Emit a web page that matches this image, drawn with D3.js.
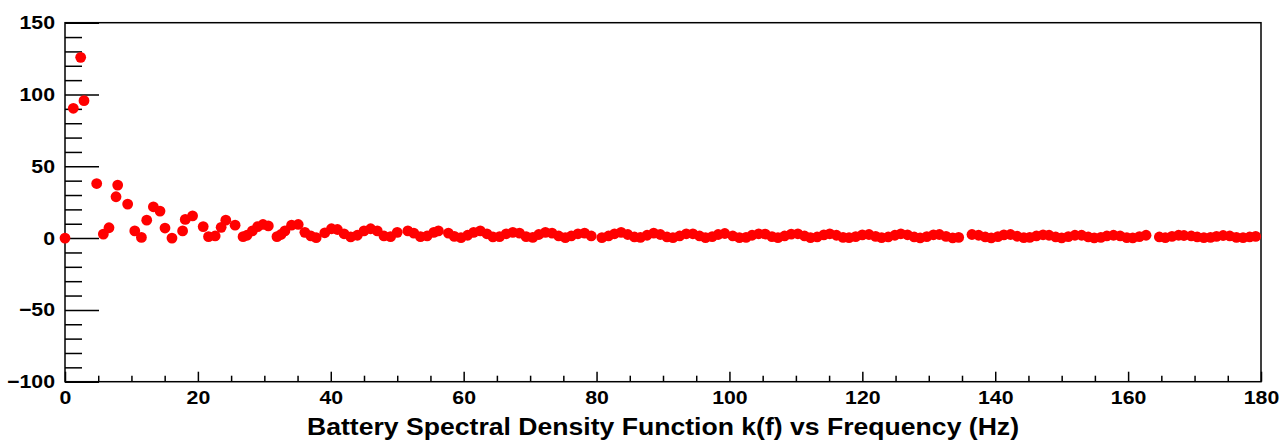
<!DOCTYPE html>
<html>
<meta charset="utf-8">
<head>
  <script src="https://d3js.org/d3.v7.min.js"></script>
  <style>
    body { margin: 0; background: #fff; }
    .tick text, .label { font-family: "Liberation Sans", Arial, sans-serif; font-weight: bold; fill: #000; }
    .frame { fill: none; stroke: #000; stroke-width: 1.5px; }
  </style>
</head>
<body>
<div id="chart"></div>
<script>
  "use strict"

  // frequency (Hz) and k(f)
  var freq = [0, 1.25, 2.36, 2.86, 4.77, 5.77, 6.62, 7.68, 7.93, 9.43, 10.5, 11.5, 12.3, 13.3, 14.3, 15.05, 16.1,
    17.7, 18.1, 19.2, 20.8, 21.6, 22.6, 23.5, 24.2, 25.6, 26.8, 27.4, 28.2, 29.0, 29.8, 30.6, 31.9, 32.5, 33.1, 34.1, 35.1, 36.1, 37.0, 37.8, 39.1,
    40.1, 41.0, 42.0, 43.0, 44.0, 45.0, 46.0, 47.0, 48.0, 49.0, 50.0, 51.6, 52.5, 53.5, 54.5, 55.5, 56.2, 57.7, 58.6,
    59.6, 60.6, 61.5, 62.5, 63.5, 64.4, 65.4, 66.4, 67.4, 68.4, 69.4, 70.4, 71.3, 72.3, 73.3, 74.3, 75.3, 76.2, 77.2, 78.2, 79.2,
    80.8, 81.8, 82.7, 83.7, 84.7, 85.7, 86.6, 87.6, 88.6, 89.6, 90.6, 91.5, 92.5, 93.5, 94.5, 95.5, 96.4, 97.4, 98.3, 99.3,
    100.5, 101.5, 102.5, 103.4, 104.4, 105.4, 106.4, 107.3, 108.3, 109.3, 110.3, 111.3, 112.2, 113.2, 114.2, 115.1, 116.1, 117.1,
    118.0, 119.0, 120.0, 121.0, 122.0, 122.9, 123.9, 124.9, 125.8, 126.8, 127.8, 128.7, 129.7, 130.7, 131.6, 132.6, 133.6, 134.5,
    136.5, 137.5, 138.5, 139.4, 140.4, 141.3, 142.3, 143.3, 144.3, 145.2, 146.2, 147.2, 148.1, 149.1, 150.0, 151.0, 152.0, 153.0,
    154.0, 154.9, 155.9, 156.8, 157.8, 158.8, 159.8, 160.7, 161.7, 162.7, 164.7, 165.6, 166.6, 167.6, 168.4,
    169.5, 170.4, 171.4, 172.4, 173.3, 174.3, 175.3, 176.3, 177.3, 178.3, 179.2];

  var density = [0, 90.4, 125.9, 95.7, 38, 2.8, 7.2, 28.8, 36.9, 23.7, 5, 0.5, 12.5, 21.8, 18.8, 7, 0,
    5, 13, 15.5, 8, 1, 1.5, 7.5, 12.5, 9, 1, 2, 5, 8, 9.5, 8.5, 1, 2.5, 5, 9, 9.5, 4, 1.5, 0.3, 3.7,
    6.5, 6, 3, 0.8, 2, 5, 6.5, 5, 1.5, 1, 4, 5, 3.5, 1, 1.5, 4, 5, 3.5, 1.2,
    0.3, 2, 4, 5, 3, 0.8, 1, 3, 4, 3.5, 1, 0.5, 2.5, 4, 3.5, 1.5, 0.3, 1.5, 3, 3.5, 1.5,
    0.3, 1.5, 3, 4, 2.5, 0.8, 0.5, 2, 3.5, 2.5, 0.8, 0.3, 1.5, 3, 3, 1.5, 0.3, 1, 2.5, 3.2,
    1.5, 0.3, 0.5, 2, 3, 2.8, 1, 0.3, 1.5, 2.8, 3, 1.5, 0.3, 0.8, 2.2, 3, 2, 0.5,
    0.3, 1, 2.2, 2.5, 1.2, 0.3, 0.8, 2, 3, 2.3, 0.8, 0.2, 1, 2.3, 2.5, 1.2, 0.2, 0.5,
    2.5, 2, 0.8, 0.2, 1, 2.2, 2.5, 1.3, 0.3, 0.5, 1.5, 2.3, 2, 0.8, 0.2, 1, 2, 2,
    0.8, 0.2, 0.5, 1.5, 2, 1.5, 0.3, 0.2, 1, 2, 0.8, 0.3, 1.2, 2, 1.8,
    1.5, 0.8, 0.3, 0.5, 1.2, 1.8, 1.5, 0.5, 0.3, 0.8, 1.2];

  var xTicks = [0, 20, 40, 60, 80, 100, 120, 140, 160, 180];
  var yTicks = [-100, -50, 0, 50, 100, 150];

  var width = 1281, height = 443;
  var margin = {left: 65, right: 20, top: 22.7, bottom: 61.3};

  var svg = d3.select("#chart").append("svg")
      .attr("width", width)
      .attr("height", height);

  var x = d3.scaleLinear().domain([0, 180]).range([margin.left, width - margin.right]);
  var y = d3.scaleLinear().domain([-100, 150]).range([height - margin.bottom, margin.top]);

  // the original text looks a bit stretched sideways
  function widen(sel, k) {
    sel.each(function() {
      var w = this.getComputedTextLength();
      d3.select(this).attr("textLength", w * k).attr("lengthAdjust", "spacingAndGlyphs");
    });
  }

  // frame (top and right)
  svg.append("rect")
      .attr("class", "frame")
      .attr("x", x(0)).attr("y", y(150))
      .attr("width", x(180) - x(0)).attr("height", y(-100) - y(150));

  // minor ticks
  var xMinor = d3.range(0, 181, 5).filter(function(d) { return d % 20 != 0; });
  var yMinor = d3.range(-100, 151, 10).filter(function(d) { return d % 50 != 0; });

  svg.append("g")
      .attr("transform", "translate(0," + y(-100) + ")")
      .call(d3.axisTop(x).tickValues(xMinor).tickSize(6).tickFormat(""))
      .call(function(g) { g.select(".domain").remove(); g.selectAll("line").attr("stroke-width", 1.5); });

  svg.append("g")
      .attr("transform", "translate(" + x(0) + ",0)")
      .call(d3.axisRight(y).tickValues(yMinor).tickSize(17).tickFormat(""))
      .call(function(g) { g.select(".domain").remove(); g.selectAll("line").attr("stroke-width", 1.5); });

  // major ticks + labels
  var xAxis = svg.append("g")
      .attr("transform", "translate(0," + y(-100) + ")")
      .call(d3.axisBottom(x).tickValues(xTicks).tickSize(0).tickPadding(9));
  xAxis.select(".domain").remove();
  xAxis.selectAll("text").attr("font-size", 19).attr("dy", "0.71em").call(widen, 1.12);
  xAxis.selectAll(".tick").append("line")
      .attr("y1", 0).attr("y2", -10)
      .attr("stroke", "#000").attr("stroke-width", 1.5);

  var yAxis = svg.append("g")
      .attr("transform", "translate(" + x(0) + ",0)")
      .call(d3.axisLeft(y).tickValues(yTicks).tickSize(0).tickPadding(10));
  yAxis.select(".domain").remove();
  yAxis.selectAll("text").attr("font-size", 19).call(widen, 1.12);
  yAxis.selectAll(".tick").append("line")
      .attr("x1", 0).attr("x2", 34)
      .attr("stroke", "#000").attr("stroke-width", 1.5);

  // points
  svg.append("g")
      .selectAll("circle")
      .data(freq)
    .enter().append("circle")
      .attr("cx", function(d) { return x(d); })
      .attr("cy", function(d, i) { return y(density[i]); })
      .attr("r", 5.4)
      .attr("fill", "#ff0000");

  svg.append("text")
      .attr("class", "label")
      .attr("x", (x(0) + x(180)) / 2)
      .attr("y", 435)
      .attr("text-anchor", "middle")
      .attr("font-size", 23.5)
      .attr("textLength", 712)
      .attr("lengthAdjust", "spacingAndGlyphs")
      .text("Battery Spectral Density Function k(f) vs Frequency (Hz)");
</script>
</body>
</html>
